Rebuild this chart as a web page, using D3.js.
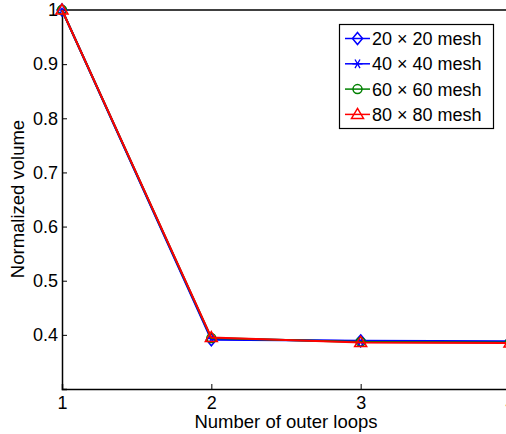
<!DOCTYPE html>
<html>
<head>
<meta charset="utf-8">
<script src="https://cdn.jsdelivr.net/npm/d3@7"></script>
<style>
  html, body { margin: 0; padding: 0; background: #fff; }
  svg { display: block; font-family: "Liberation Sans", Arial, Helvetica, sans-serif; }
</style>
</head>
<body>
<svg id="chart" width="506" height="434"></svg>
<script>
// Outer loop index
const loops = [1, 2, 3, 4];
// Normalized volume per mesh resolution
const mesh20 = [1.0, 0.391, 0.389, 0.388];
const mesh40 = [1.0, 0.393, 0.388, 0.387];
const mesh60 = [1.0, 0.394, 0.387, 0.386];
const mesh80 = [1.0, 0.395, 0.386, 0.385];
const seriesNames = ["20 \u00d7 20 mesh", "40 \u00d7 40 mesh", "60 \u00d7 60 mesh", "80 \u00d7 80 mesh"];
const yTicks = [0.4, 0.5, 0.6, 0.7, 0.8, 0.9, 1];
const xTicks = [1, 2, 3, 4];

const series = [
  { name: seriesNames[0], values: mesh20, color: "#0000ff", marker: "diamond" },
  { name: seriesNames[1], values: mesh40, color: "#0000ff", marker: "asterisk" },
  { name: seriesNames[2], values: mesh60, color: "#008000", marker: "circle" },
  { name: seriesNames[3], values: mesh80, color: "#ff0000", marker: "triangle" }
];

const svg = d3.select("#chart");
const plotLeft = 62, plotTop = 10, plotRight = 510, plotBottom = 389;
const fontSize = 18;
const titleSize = 18.5;

const x = d3.scaleLinear().domain([1, 4]).range([plotLeft, plotRight]);
const y = d3.scaleLinear().domain([0.3, 1]).range([plotBottom, plotTop]);

// Axes box
const axisColor = "#000";
svg.append("line").attr("x1", plotLeft).attr("x2", plotRight).attr("y1", plotTop).attr("y2", plotTop)
  .attr("stroke", axisColor).attr("stroke-width", 1.5);
svg.append("line").attr("x1", plotRight).attr("x2", plotRight).attr("y1", plotTop).attr("y2", plotBottom)
  .attr("stroke", axisColor).attr("stroke-width", 1.5);

// Bottom axis, ticks pointing inward
const xAxis = d3.axisBottom(x).tickValues(xTicks).tickSize(-5).tickPadding(7).tickFormat(d3.format("d"));
const gx = svg.append("g").attr("transform", `translate(0,${plotBottom})`).call(xAxis);
gx.select(".domain").attr("stroke-width", 1.5);
gx.selectAll(".tick text").attr("font-size", fontSize).attr("fill", "#000").attr("font-family", "Liberation Sans, Arial, sans-serif");

// Left axis, ticks pointing inward
const yAxis = d3.axisLeft(y).tickValues(yTicks).tickSize(-5).tickPadding(4).tickFormat(d => d === 1 ? "1" : d3.format(".1f")(d));
const gy = svg.append("g").attr("transform", `translate(${plotLeft},0)`).call(yAxis);
gy.select(".domain").attr("stroke-width", 1.5);
gy.selectAll(".tick text").attr("font-size", fontSize).attr("fill", "#000").attr("font-family", "Liberation Sans, Arial, sans-serif");

// Axis titles
svg.append("text").attr("x", 286).attr("y", 428).attr("text-anchor", "middle")
  .attr("font-size", titleSize).text("Number of outer loops");
svg.append("text").attr("transform", "translate(24,199) rotate(-90)")
  .attr("text-anchor", "middle").attr("font-size", titleSize).text("Normalized volume");

// Marker drawing
function drawMarker(g, type, cx, cy, color) {
  const r = 5;
  if (type === "diamond") {
    g.append("path").attr("d", `M${cx},${cy - r - 1}L${cx + r},${cy}L${cx},${cy + r + 1}L${cx - r},${cy}Z`)
      .attr("fill", "none").attr("stroke", color).attr("stroke-width", 1.5);
  } else if (type === "asterisk") {
    const p = [];
    [0, 60, 120].forEach(a => {
      const t = a * Math.PI / 180;
      p.push(`M${cx - r * Math.cos(t)},${cy - r * Math.sin(t)}L${cx + r * Math.cos(t)},${cy + r * Math.sin(t)}`);
    });
    p.push(`M${cx - r},${cy}L${cx + r},${cy}`);
    g.append("path").attr("d", p.join("")).attr("stroke", color).attr("stroke-width", 1.3).attr("fill", "none");
  } else if (type === "circle") {
    g.append("circle").attr("cx", cx).attr("cy", cy).attr("r", r - 0.5)
      .attr("fill", "none").attr("stroke", color).attr("stroke-width", 1.5);
  } else if (type === "triangle") {
    g.append("path").attr("d", `M${cx},${cy - r - 1}L${cx + r + 1},${cy + r - 1}L${cx - r - 1},${cy + r - 1}Z`)
      .attr("fill", "none").attr("stroke", color).attr("stroke-width", 1.5);
  }
}

// Series lines and markers, clipped to the plot region
svg.append("clipPath").attr("id", "plotclip").append("rect")
  .attr("x", plotLeft - 10).attr("y", plotTop - 10).attr("width", 506 - plotLeft + 10).attr("height", plotBottom - plotTop + 20);
const plot = svg.append("g").attr("clip-path", "url(#plotclip)");
const line = d3.line().x((d, i) => x(loops[i])).y(d => y(d));
series.forEach(s => {
  const g = plot.append("g");
  g.append("path").datum(s.values).attr("d", line).attr("fill", "none")
    .attr("stroke", s.color).attr("stroke-width", 2);
  s.values.forEach((v, i) => drawMarker(g, s.marker, x(loops[i]), y(v), s.color));
});

// Legend
const lg = svg.append("g");
lg.append("rect").attr("x", 339.5).attr("y", 24.5).attr("width", 154).attr("height", 104)
  .attr("fill", "#fff").attr("stroke", "#000").attr("stroke-width", 1.2);
series.forEach((s, i) => {
  const cy = 38.5 + i * 25.3;
  lg.append("line").attr("x1", 345).attr("x2", 370).attr("y1", cy).attr("y2", cy)
    .attr("stroke", s.color).attr("stroke-width", 1.5);
  drawMarker(lg, s.marker, 357.5, cy, s.color);
  lg.append("text").attr("x", 372).attr("y", cy + 6.5).attr("font-size", fontSize).text(s.name);
});
</script>
</body>
</html>
